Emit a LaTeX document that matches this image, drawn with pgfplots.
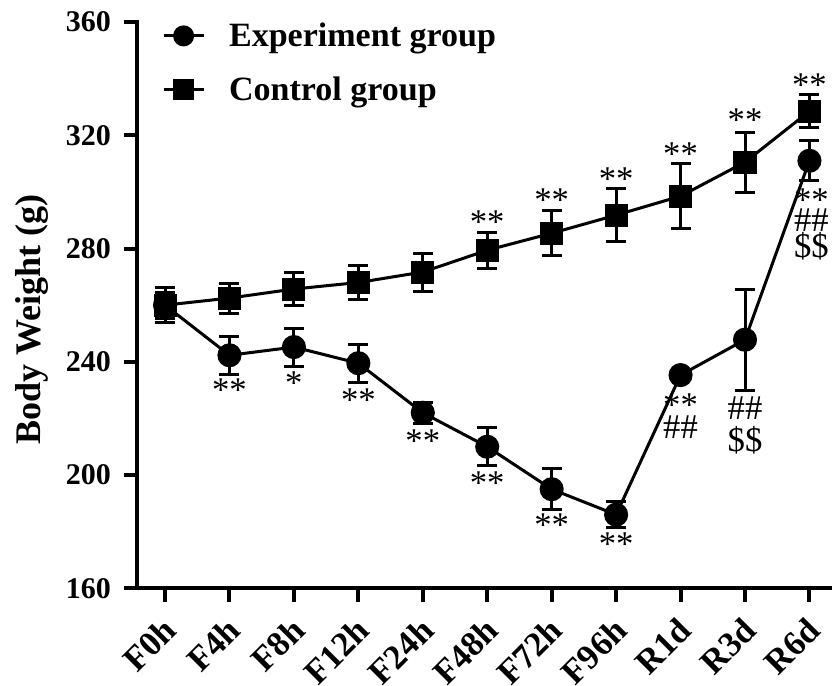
\documentclass[border=0pt]{standalone}
\usepackage{fontspec}
\setmainfont{Liberation Serif}
\usepackage{pgfplots}
\pgfplotsset{compat=1.18}
\pgfplotstableread{
x exp experr ctrl ctrlerr
0 260.0 4.6 260.0 6.2
1 242.3 6.7 262.5 5.3
2 245.2 6.7 265.7 5.8
3 239.5 6.7 268.0 6.0
4 222.0 3.7 271.7 6.7
5 210.0 6.7 279.4 6.4
6 195.0 7.2 285.4 8.0
7 186.0 4.6 291.8 9.4
8 235.3 0.0 298.5 11.5
9 247.8 17.8 310.5 10.6
10 311.0 7.0 328.5 5.8
}\datatable
\newcommand\ann[3]{\node[font=\fontsize{26}{30}\selectfont, inner sep=0pt] at (axis cs:#1,#2) {#3};}
\newcommand\xlab[1]{\fontsize{26}{30}\selectfont\bfseries #1}
\begin{document}
\begin{tikzpicture}
\begin{axis}[
  scale only axis,
  width=521pt, height=424.5pt,
  xmin=-0.435, xmax=10.35,
  ymin=160, ymax=360,
  ytick={160,200,...,360},
  xtick={0,...,10},
  xticklabels={\xlab{F0h},\xlab{F4h},\xlab{F8h},\xlab{F12h},\xlab{F24h},\xlab{F48h},\xlab{F72h},\xlab{F96h},\xlab{R1d},\xlab{R3d},\xlab{R6d}},
  axis x line*=bottom, axis y line*=left,
  axis line style={line width=3pt, line cap=rect},
  tick style={line width=3pt, black},
  major tick length=10pt,
  tick align=outside,
  /pgf/number format/assume math mode=true,
  yticklabel style={font=\bfseries\fontsize{22.5}{26}\selectfont, xshift=-6pt},
  xticklabel style={rotate=45, anchor=north east, inner sep=1pt, xshift=-8.5pt, yshift=-4.2pt},
  ylabel={\bfseries Body Weight (g)},
  ylabel style={font=\fontsize{27}{32}\selectfont, yshift=6pt, xshift=-11pt},
  clip=false,
  legend style={at={(rel axis cs:0.03,1.008)}, anchor=north west, draw=none, fill=none,
    font=\bfseries\fontsize{25.5}{30}\selectfont, row sep=17pt,
    /tikz/every even column/.append style={column sep=0pt},
    /tikz/every odd column/.append style={column sep=16pt}},
  legend cell align=left,
  legend image code/.code={\draw[mark repeat=2,mark phase=2,#1,mark size=6.75pt] plot coordinates {(0pt,0pt)(15pt,0pt)(30pt,0pt)};},
]
\addplot[black, line width=2.25pt, mark=*, mark size=7.9pt, mark options={solid},
  error bars/.cd, y dir=both, y explicit, error mark=-,
  error bar style={line width=2.25pt, black},
  error mark options={rotate=90, line width=2.25pt, mark size=7.5pt, black}]
  table[x=x, y=exp, y error=experr]{\datatable};
\addlegendentry{Experiment group}
\addplot[black, line width=2.25pt, mark=square*, mark size=7.5pt, mark options={solid},
  error bars/.cd, y dir=both, y explicit, error mark=-,
  error bar style={line width=2.25pt, black},
  error mark options={rotate=90, line width=2.25pt, mark size=7.5pt, black}]
  table[x=x, y=ctrl, y error=ctrlerr]{\datatable};
\addlegendentry{Control group}
% experiment annotations
\ann{1}{230.0}{**}
\ann{2}{232.5}{*}
\ann{3}{226.5}{**}
\ann{4}{212.0}{**}
\ann{5}{197.2}{**}
\ann{6}{182.3}{**}
\ann{7}{175.6}{**}
\ann{8}{224.7}{**}
\ann{8}{216.9}{\#\#}
\ann{9}{223.6}{\#\#}
\ann{9}{212.3}{\$\$}
\ann{10.03}{297.2}{**}
\ann{10.03}{290.2}{\#\#}
\ann{10.03}{280.8}{\$\$}
% control annotations
\ann{5}{289.3}{**}
\ann{6}{297.0}{**}
\ann{7}{304.4}{**}
\ann{8}{313.2}{**}
\ann{9}{325.2}{**}
\ann{10}{337.6}{**}
\coordinate (bbsw) at (rel axis cs:-0.1971,-0.1714);
\coordinate (bbne) at (rel axis cs:1,1.0389);
\end{axis}
\pgfresetboundingbox
\useasboundingbox (bbsw) rectangle (bbne);
\end{tikzpicture}
\end{document}
